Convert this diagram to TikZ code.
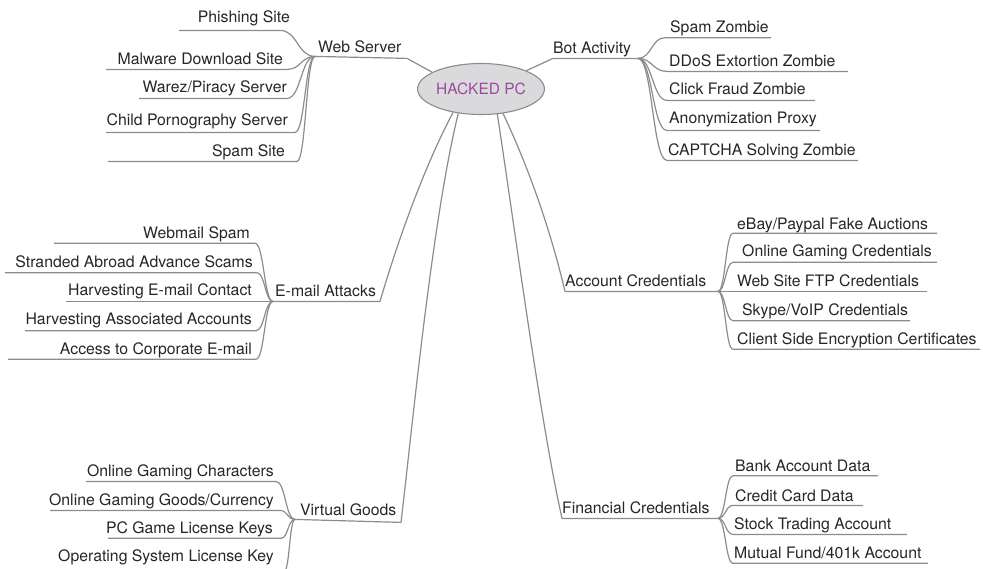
\documentclass[tikz,border=0pt]{standalone}
\usepackage{fontspec}
\setmainfont{TeX Gyre Heros}
\usetikzlibrary{calc,shapes.geometric}
\definecolor{wire}{HTML}{8C8C8C}
\definecolor{ink}{HTML}{262626}
\definecolor{hubfill}{HTML}{DADADC}
\definecolor{hubtext}{HTML}{9B4AA0}
\begin{document}
\begin{tikzpicture}[x=1pt,y=-1pt,
  link/.style={draw=wire, line width=1.2pt, line join=round},
  twig/.style={to path={let \p1=(\tikztostart), \p2=(\tikztotarget) in
      .. controls ({(\x1+\x2)/2},\y1) and ({(\x1+\x2)/2},\y2) .. (\tikztotarget)}},
  lbl/.style={inner sep=0pt, text=ink, font=\fontsize{15.8}{18}\selectfont},
  leafL/.style={lbl, anchor=base east},
  leafR/.style={lbl, anchor=base west},
]
\clip (0,0) rectangle (983,568);

% centre
\node[ellipse, draw=wire, fill=hubfill, line width=1.1pt, minimum width=110pt,
      minimum height=51pt, inner sep=0pt, text=hubtext,
      font=\fontsize{15.5}{18}\selectfont] (hub) at (481,89) {HACKED PC};

% branch labels
\node[leafR] (webserver) at (318,52.3)  {Web Server};
\node[leafR] (bot)       at (553,53.3)  {Bot Activity};
\node[leafR] (email)     at (275,296)   {E-mail Attacks};
\node[leafR] (account)   at (565,286)   {Account Credentials};
\node[leafR] (virtual)   at (300,515)   {Virtual Goods};
\node[leafR] (financial) at (562,513.3) {Financial Credentials};

% branch points and ends of branch underlines
\coordinate (ws) at (315,56.4);  \coordinate (wsE) at (407,58.4);
\coordinate (ba) at (638,58.4);  \coordinate (baE) at (553,58.4);
\coordinate (em) at (273,301.4); \coordinate (emE) at (380,301.4);
\coordinate (ac) at (718,291.4); \coordinate (acE) at (565,291.4);
\coordinate (vg) at (295,519.4); \coordinate (vgE) at (401,522.4);
\coordinate (fc) at (718,518.4); \coordinate (fcE) at (562,518.4);

% main branches
\draw[link] (ws) -- (wsE) -- (hub.161);
\draw[link] (ba) -- (baE) -- (hub.22);
\draw[link] (em) -- (emE) .. controls (398,240) and (425,165) .. (hub.220);
\draw[link] (vg) -- (vgE) .. controls (412,430) and (432,220) .. (hub.227);
\draw[link] (ac) -- (acE) .. controls (548,220) and (525,160) .. (hub.312);
\draw[link] (fc) -- (fcE) .. controls (540,420) and (515,230) .. (hub.303);

% Web Server
\node[leafL] (phish)    at (290,22.7)  {Phishing Site};
\node[leafL] (malware)  at (283,64)    {Malware Download Site};
\node[leafL] (warez)    at (287,92.7)  {Warez/Piracy Server};
\node[leafL] (child)    at (288,125)   {Child Pornography Server};
\node[leafL] (spamsite) at (285,156.7) {Spam Site};
\coordinate (phishL) at (179,30.4);     \coordinate (phishR) at (280,30.4);
\coordinate (malwareL) at (106,69.4);   \coordinate (malwareR) at (287,69.4);
\coordinate (warezL) at (139,98.4);     \coordinate (warezR) at (287,98.4);
\coordinate (childL) at (106,132.4);    \coordinate (childR) at (295,132.4);
\coordinate (spamsiteL) at (108,161.4); \coordinate (spamsiteR) at (297,161.4);
\foreach \b in {phish,malware,warez,child,spamsite}
  \draw[link] (\b L) -- (\b R) to[twig] (ws);

% Bot Activity
\node[leafR] (spamz)   at (670,32.3)  {Spam Zombie};
\node[leafR] (ddos)    at (669,66.7)  {DDoS Extortion Zombie};
\node[leafR] (click)   at (669,94.3)  {Click Fraud Zombie};
\node[leafR] (anon)    at (669,123)   {Anonymization Proxy};
\node[leafR] (captcha) at (668,155)   {CAPTCHA Solving Zombie};
\coordinate (spamzL) at (665,37.7);  \coordinate (spamzR) at (771,37.7);
\coordinate (ddosL) at (667,71.4);   \coordinate (ddosR) at (848,71.4);
\coordinate (clickL) at (667,100.4); \coordinate (clickR) at (815,100.4);
\coordinate (anonL) at (667,130.4);  \coordinate (anonR) at (820,130.4);
\coordinate (captchaL) at (667,160.4); \coordinate (captchaR) at (858,160.4);
\foreach \b in {spamz,ddos,click,anon,captcha}
  \draw[link] (ba) to[twig] (\b L) -- (\b R);

% E-mail Attacks
\node[leafL] (webmail)   at (250,238.3) {Webmail Spam};
\node[leafL] (stranded)  at (253,267.7) {Stranded Abroad Advance Scams};
\node[leafL] (harvest)   at (252,295)   {Harvesting E-mail Contact};
\node[leafL] (assoc)     at (252,324)   {Harvesting Associated Accounts};
\node[leafL] (corporate) at (252,354.3) {Access to Corporate E-mail};
\coordinate (webmailL) at (54,243.3);  \coordinate (webmailR) at (255,243.3);
\coordinate (strandedL) at (5,272.7);  \coordinate (strandedR) at (257,272.7);
\coordinate (harvestL) at (66,301.4);
\coordinate (assocL) at (25,330.7);    \coordinate (assocR) at (256,330.7);
\coordinate (corporateL) at (8,359.3); \coordinate (corporateR) at (256,359.3);
\foreach \b in {webmail,stranded,assoc,corporate}
  \draw[link] (\b L) -- (\b R) to[twig] (em);
\draw[link] (harvestL) -- (em);

% Account Credentials
\node[leafR] (ebay)   at (737,229.3) {eBay/Paypal Fake Auctions};
\node[leafR] (ogcred) at (742,256.7) {Online Gaming Credentials};
\node[leafR] (ftp)    at (737,286)   {Web Site FTP Credentials};
\node[leafR] (skype)  at (742,315)   {Skype/VoIP Credentials};
\node[leafR] (client) at (737,344)   {Client Side Encryption Certificates};
\coordinate (ebayL) at (733,233.3);   \coordinate (ebayR) at (937,233.3);
\coordinate (ogcredL) at (733,262.3); \coordinate (ogcredR) at (937,262.3);
\coordinate (ftpR) at (927,291.4);
\coordinate (skypeL) at (733,320.7);  \coordinate (skypeR) at (910,320.7);
\coordinate (clientL) at (733,349.3); \coordinate (clientR) at (980,349.3);
\foreach \b in {ebay,ogcred,skype,client}
  \draw[link] (ac) to[twig] (\b L) -- (\b R);
\draw[link] (ac) -- (ftpR);

% Virtual Goods
\node[leafL] (ogchar) at (274,476)   {Online Gaming Characters};
\node[leafL] (ogcur)  at (274,505)   {Online Gaming Goods/Currency};
\node[leafL] (pcgame) at (273,533.3) {PC Game License Keys};
\node[leafL] (oslic)  at (274,561.7) {Operating System License Key};
\coordinate (ogcharL) at (86,481.4);  \coordinate (ogcharR) at (276,481.4);
\coordinate (ogcurL) at (50,510.4);   \coordinate (ogcurR) at (280,510.4);
\coordinate (pcgameL) at (108,538.3); \coordinate (pcgameR) at (281,538.3);
\coordinate (oslicL) at (55,572);     \coordinate (oslicR) at (284,572);
\foreach \b in {ogchar,ogcur,pcgame,oslic}
  \draw[link] (\b L) -- (\b R) to[twig] (vg);

% Financial Credentials
\node[leafR] (bank)   at (735,471.7) {Bank Account Data};
\node[leafR] (credit) at (735,501)   {Credit Card Data};
\node[leafR] (stock)  at (734,529)   {Stock Trading Account};
\node[leafR] (mutual) at (734,558.3) {Mutual Fund/401k Account};
\coordinate (bankL) at (733,475.7);   \coordinate (bankR) at (878,475.7);
\coordinate (creditL) at (733,505.4); \coordinate (creditR) at (863,505.4);
\coordinate (stockL) at (733,534.4);  \coordinate (stockR) at (907,534.4);
\coordinate (mutualL) at (733,563.3); \coordinate (mutualR) at (928,563.3);
\foreach \b in {bank,credit,stock,mutual}
  \draw[link] (fc) to[twig] (\b L) -- (\b R);
\end{tikzpicture}
\end{document}
